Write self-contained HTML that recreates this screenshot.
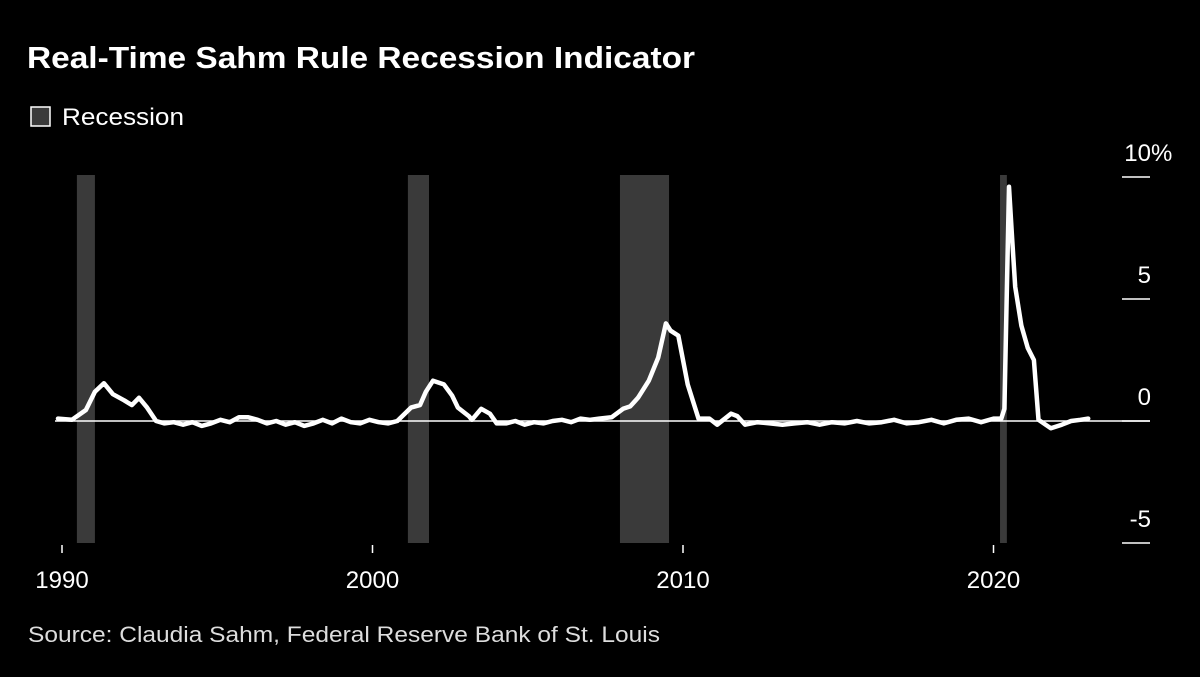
<!DOCTYPE html>
<html><head><meta charset="utf-8"><style>
body{margin:0;background:#000;width:1200px;height:672px;overflow:hidden;font-family:"Liberation Sans",sans-serif;color:#fff}
</style></head><body>
<svg width="1200" height="672">
<text x="27" y="68" font-size="31" font-weight="bold" fill="#fff" textLength="668" lengthAdjust="spacingAndGlyphs">Real-Time Sahm Rule Recession Indicator</text>
<g>
<rect x="31" y="107" width="19" height="19" fill="#3a3a3a" stroke="#fff" stroke-width="1.5"/>
<text x="62" y="125" font-size="24" fill="#fff" textLength="122" lengthAdjust="spacingAndGlyphs">Recession</text>
</g>
<g id="rec"></g><g id="axes"></g><g id="line"></g>
<text x="28" y="642" font-size="22" fill="#ddd" textLength="632" lengthAdjust="spacingAndGlyphs">Source: Claudia Sahm, Federal Reserve Bank of St. Louis</text>
</svg>
<script>
const recStart=[1990.48,2001.14,2007.97,2020.21];
const recEnd=[1991.06,2001.82,2009.55,2020.43];
const years=[1989.87,1990.32,1990.77,1991.06,1991.35,1991.64,1992.0,1992.25,1992.48,1992.74,1993.03,1993.3,1993.6,1993.9,1994.2,1994.5,1994.8,1995.1,1995.4,1995.7,1996.0,1996.3,1996.6,1996.9,1997.2,1997.5,1997.8,1998.1,1998.4,1998.7,1999.0,1999.3,1999.6,1999.9,2000.2,2000.5,2000.8,2001.24,2001.53,2001.72,2001.95,2002.3,2002.56,2002.75,2003.1,2003.2,2003.5,2003.78,2004.0,2004.3,2004.6,2004.9,2005.2,2005.5,2005.8,2006.1,2006.4,2006.7,2007.0,2007.3,2007.7,2008.07,2008.3,2008.55,2008.9,2009.2,2009.45,2009.6,2009.85,2010.15,2010.5,2010.85,2011.1,2011.55,2011.75,2012.0,2012.4,2012.8,2013.2,2013.6,2014.0,2014.4,2014.8,2015.2,2015.6,2016.0,2016.4,2016.8,2017.2,2017.6,2018.0,2018.4,2018.8,2019.2,2019.6,2020.0,2020.25,2020.35,2020.5,2020.6,2020.7,2020.9,2021.1,2021.3,2021.45,2021.85,2022.2,2022.5,2022.8,2023.05];
const values=[0.1,0.05,0.45,1.2,1.55,1.1,0.85,0.65,0.95,0.55,0,-0.1,-0.05,-0.15,-0.05,-0.2,-0.1,0.05,-0.05,0.15,0.15,0.05,-0.1,0,-0.15,-0.05,-0.2,-0.1,0.05,-0.1,0.1,-0.05,-0.1,0.05,-0.05,-0.1,0,0.55,0.65,1.2,1.65,1.5,1.05,0.55,0.2,0.05,0.5,0.3,-0.1,-0.1,0,-0.15,-0.05,-0.1,0,0.05,-0.05,0.1,0.05,0.1,0.15,0.5,0.6,0.95,1.65,2.6,4.0,3.7,3.5,1.5,0.1,0.1,-0.15,0.3,0.2,-0.15,-0.05,-0.1,-0.15,-0.1,-0.05,-0.15,-0.05,-0.1,0,-0.1,-0.05,0.05,-0.1,-0.05,0.05,-0.1,0.05,0.1,-0.05,0.1,0.1,0.5,9.6,7.5,5.5,3.9,3.0,2.5,0.05,-0.3,-0.15,0,0.05,0.1];
const yTicks=[10,5,0,-5];
const yLabels=["10","5","0","-5"];
const xTicks=[1990,2000,2010,2020];
const X=y=>62+(y-1990)*31.05;
const Y=v=>421-v*24.4;
const ns="http://www.w3.org/2000/svg";
function mk(t,a,p){const e=document.createElementNS(ns,t);for(const k in a)e.setAttribute(k,a[k]);p.appendChild(e);return e;}
const rec=document.getElementById('rec'),axes=document.getElementById('axes'),line=document.getElementById('line');
recStart.forEach((s,i)=>{
 const r=mk('rect',{x:X(s),y:175,width:X(recEnd[i])-X(s),height:368,fill:'#3a3a3a'},rec);
 
 
});
yTicks.forEach((v,i)=>{
 const l=mk('line',{x1:1122,x2:1150,y1:Y(v),y2:Y(v),stroke:'#fff','stroke-width':1.5},axes);
 
 
 const t=mk('text',{x:1151,y:Y(v)-16,'font-size':24,fill:'#fff','text-anchor':'end'},axes);
 t.textContent=yLabels[i];
 
 
 if(i===0){
  const pc=mk('text',{x:1151,y:Y(v)-16,'font-size':24,fill:'#fff'},axes);
  pc.textContent='%';
  
  
 }
});
const z=mk('line',{x1:55,x2:1150,y1:Y(0),y2:Y(0),stroke:'#fff','stroke-width':1.5},axes);


xTicks.forEach(y=>{
 const l=mk('line',{x1:X(y),x2:X(y),y1:545,y2:553,stroke:'#fff','stroke-width':1.5},axes);
 
 
 const t=mk('text',{x:X(y),y:588,'font-size':24,fill:'#fff','text-anchor':'middle'},axes);
 t.textContent=y;
 
 
});
const p=mk('path',{d:years.map((y,i)=>(i?'L':'M')+X(y).toFixed(1)+','+Y(values[i]).toFixed(1)).join(''),fill:'none',stroke:'#fff','stroke-width':4.5,'stroke-linejoin':'round','stroke-linecap':'round'},line);


</script>
</body></html>
